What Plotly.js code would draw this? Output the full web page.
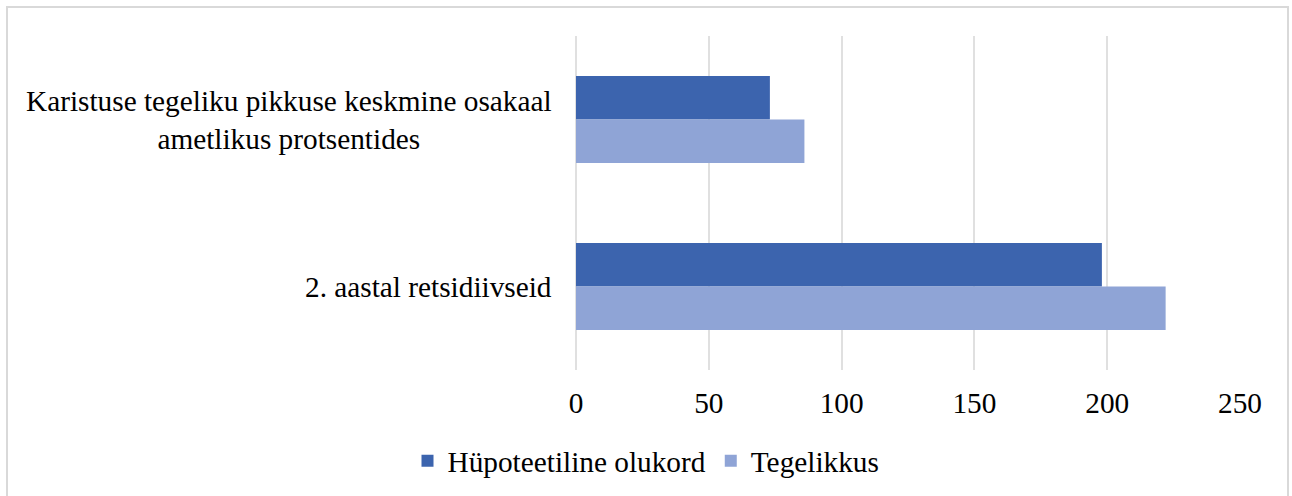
<!DOCTYPE html>
<html>
<head>
<meta charset="utf-8">
<script src="https://cdn.plot.ly/plotly-3.0.1.min.js"></script>
<style>
  html, body { margin: 0; padding: 0; background: #fff; }
  #frame { position: absolute; left: 6px; top: 6px; width: 1283px; height: 500px; border: 2px solid #d9d9d9; box-sizing: border-box; pointer-events: none; z-index: 5; }
  #chart { width: 1292px; height: 496px; }
</style>
</head>
<body>
<div id="frame"></div>
<div id="chart"></div>
<script>
const categories = [
  "Karistuse tegeliku pikkuse keskmine osakaal<br>ametlikus protsentides",
  "2. aastal retsidiivseid"
];
const seriesNames = ["Hüpoteetiline olukord", "Tegelikkus"];
const hypoValues = [73, 198];
const realValues = [86, 222];
const tickValues = [0, 50, 100, 150, 200, 250];

const font = "Liberation Serif";
const fs = 29.3;

const traces = [
  { type: "bar", orientation: "h", name: seriesNames[0], y: categories, x: hypoValues,
    marker: { color: "#3c64ae" } },
  { type: "bar", orientation: "h", name: seriesNames[1], y: categories, x: realValues,
    marker: { color: "#8fa4d6" } }
];

const annotations = categories.map(c => ({
  xref: "paper", yref: "y", x: 0, y: c, xanchor: "right", yanchor: "middle",
  xshift: -22, text: c, showarrow: false, align: "center",
  font: { family: font, size: fs, color: "#000" }
}));

const layout = {
  width: 1292, height: 496,
  margin: { l: 576, r: 52, t: 36, b: 126 },
  paper_bgcolor: "#fff", plot_bgcolor: "#fff",
  barmode: "group", bargap: 0.48, bargroupgap: 0,
  font: { family: font, size: fs, color: "#000" },
  xaxis: {
    range: [0, 250], tickvals: tickValues, ticktext: tickValues.map(String),
    showgrid: true, gridcolor: "#e0e0e0", gridwidth: 2,
    zeroline: true, zerolinecolor: "#e0e0e0", zerolinewidth: 2,
    showline: false, ticks: "", ticklabelstandoff: 13,
    tickfont: { family: font, size: fs, color: "#000" }
  },
  yaxis: {
    type: "category", autorange: "reversed", showticklabels: false,
    showgrid: false, zeroline: false, showline: false, ticks: ""
  },
  showlegend: true,
  legend: {
    orientation: "h", xref: "container", yref: "container",
    x: 0.5, xanchor: "center", y: 0.07, yanchor: "middle",
    font: { family: font, size: fs, color: "#000" },
    itemwidth: 30, tracegroupgap: 0, bgcolor: "rgba(0,0,0,0)"
  },
  annotations: annotations
};

Plotly.newPlot("chart", traces, layout, { displayModeBar: false, staticPlot: true });
</script>
</body>
</html>
